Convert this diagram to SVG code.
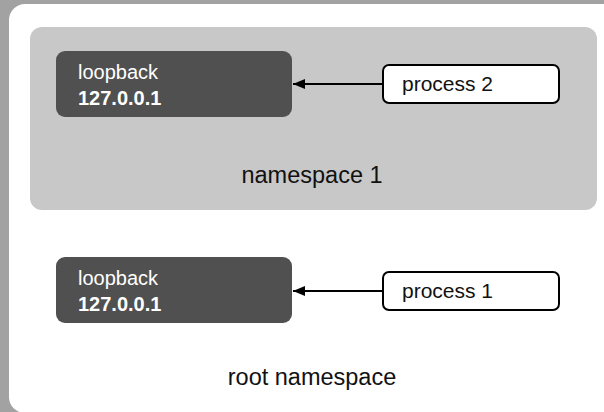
<svg xmlns="http://www.w3.org/2000/svg" width="604" height="412" viewBox="0 0 604 412">
<defs>
<style>
.bg{fill:#a2a2a2}
.panel{fill:#ffffff}
.ns{fill:#c8c8c8}
.lo{fill:#505050}
.proc{fill:#ffffff;stroke:#000000;stroke-width:2}
.t{font-family:"Liberation Sans",Arial,sans-serif}
.wt{fill:#ffffff;font-size:20px}
.bt{fill:#ffffff;font-size:20px;font-weight:bold}
.pt{fill:#111111;font-size:21px}
.lab{fill:#111111;font-size:23.5px;text-anchor:middle}
.edge{stroke:#000000;stroke-width:2;fill:none}
</style>
<marker id="ah" markerWidth="12" markerHeight="10" refX="12" refY="5" orient="auto" markerUnits="userSpaceOnUse">
<path d="M0,0 L12,5 L0,10 Z" fill="#000000"/>
</marker>
</defs>
<rect class="bg" x="0" y="0" width="604" height="412"/>
<g id="root-namespace">
<rect class="panel" x="9" y="4" width="620" height="409" rx="16"/>
<text class="t lab" x="312" y="385">root namespace</text>
</g>
<g id="namespace-1">
<rect class="ns" x="30" y="27" width="567" height="183" rx="12"/>
<text class="t lab" x="312" y="183">namespace 1</text>
</g>
<g id="loopback-ns1">
<rect class="lo" x="56" y="51" width="236" height="66" rx="9"/>
<text class="t wt" x="78" y="79">loopback</text>
<text class="t bt" x="78" y="105">127.0.0.1</text>
</g>
<g id="process-2">
<rect class="proc" x="383" y="65" width="176" height="38" rx="6"/>
<text class="t pt" x="402" y="91">process 2</text>
</g>
<g id="loopback-root">
<rect class="lo" x="56" y="257" width="236" height="66" rx="9"/>
<text class="t wt" x="78" y="285">loopback</text>
<text class="t bt" x="78" y="311">127.0.0.1</text>
</g>
<g id="process-1">
<rect class="proc" x="383" y="272" width="176" height="38" rx="6"/>
<text class="t pt" x="402" y="298">process 1</text>
</g>
<g id="connectors">
<line class="edge" x1="382" y1="84" x2="293" y2="84" marker-end="url(#ah)"/>
<line class="edge" x1="382" y1="291" x2="293" y2="291" marker-end="url(#ah)"/>
</g>
</svg>
